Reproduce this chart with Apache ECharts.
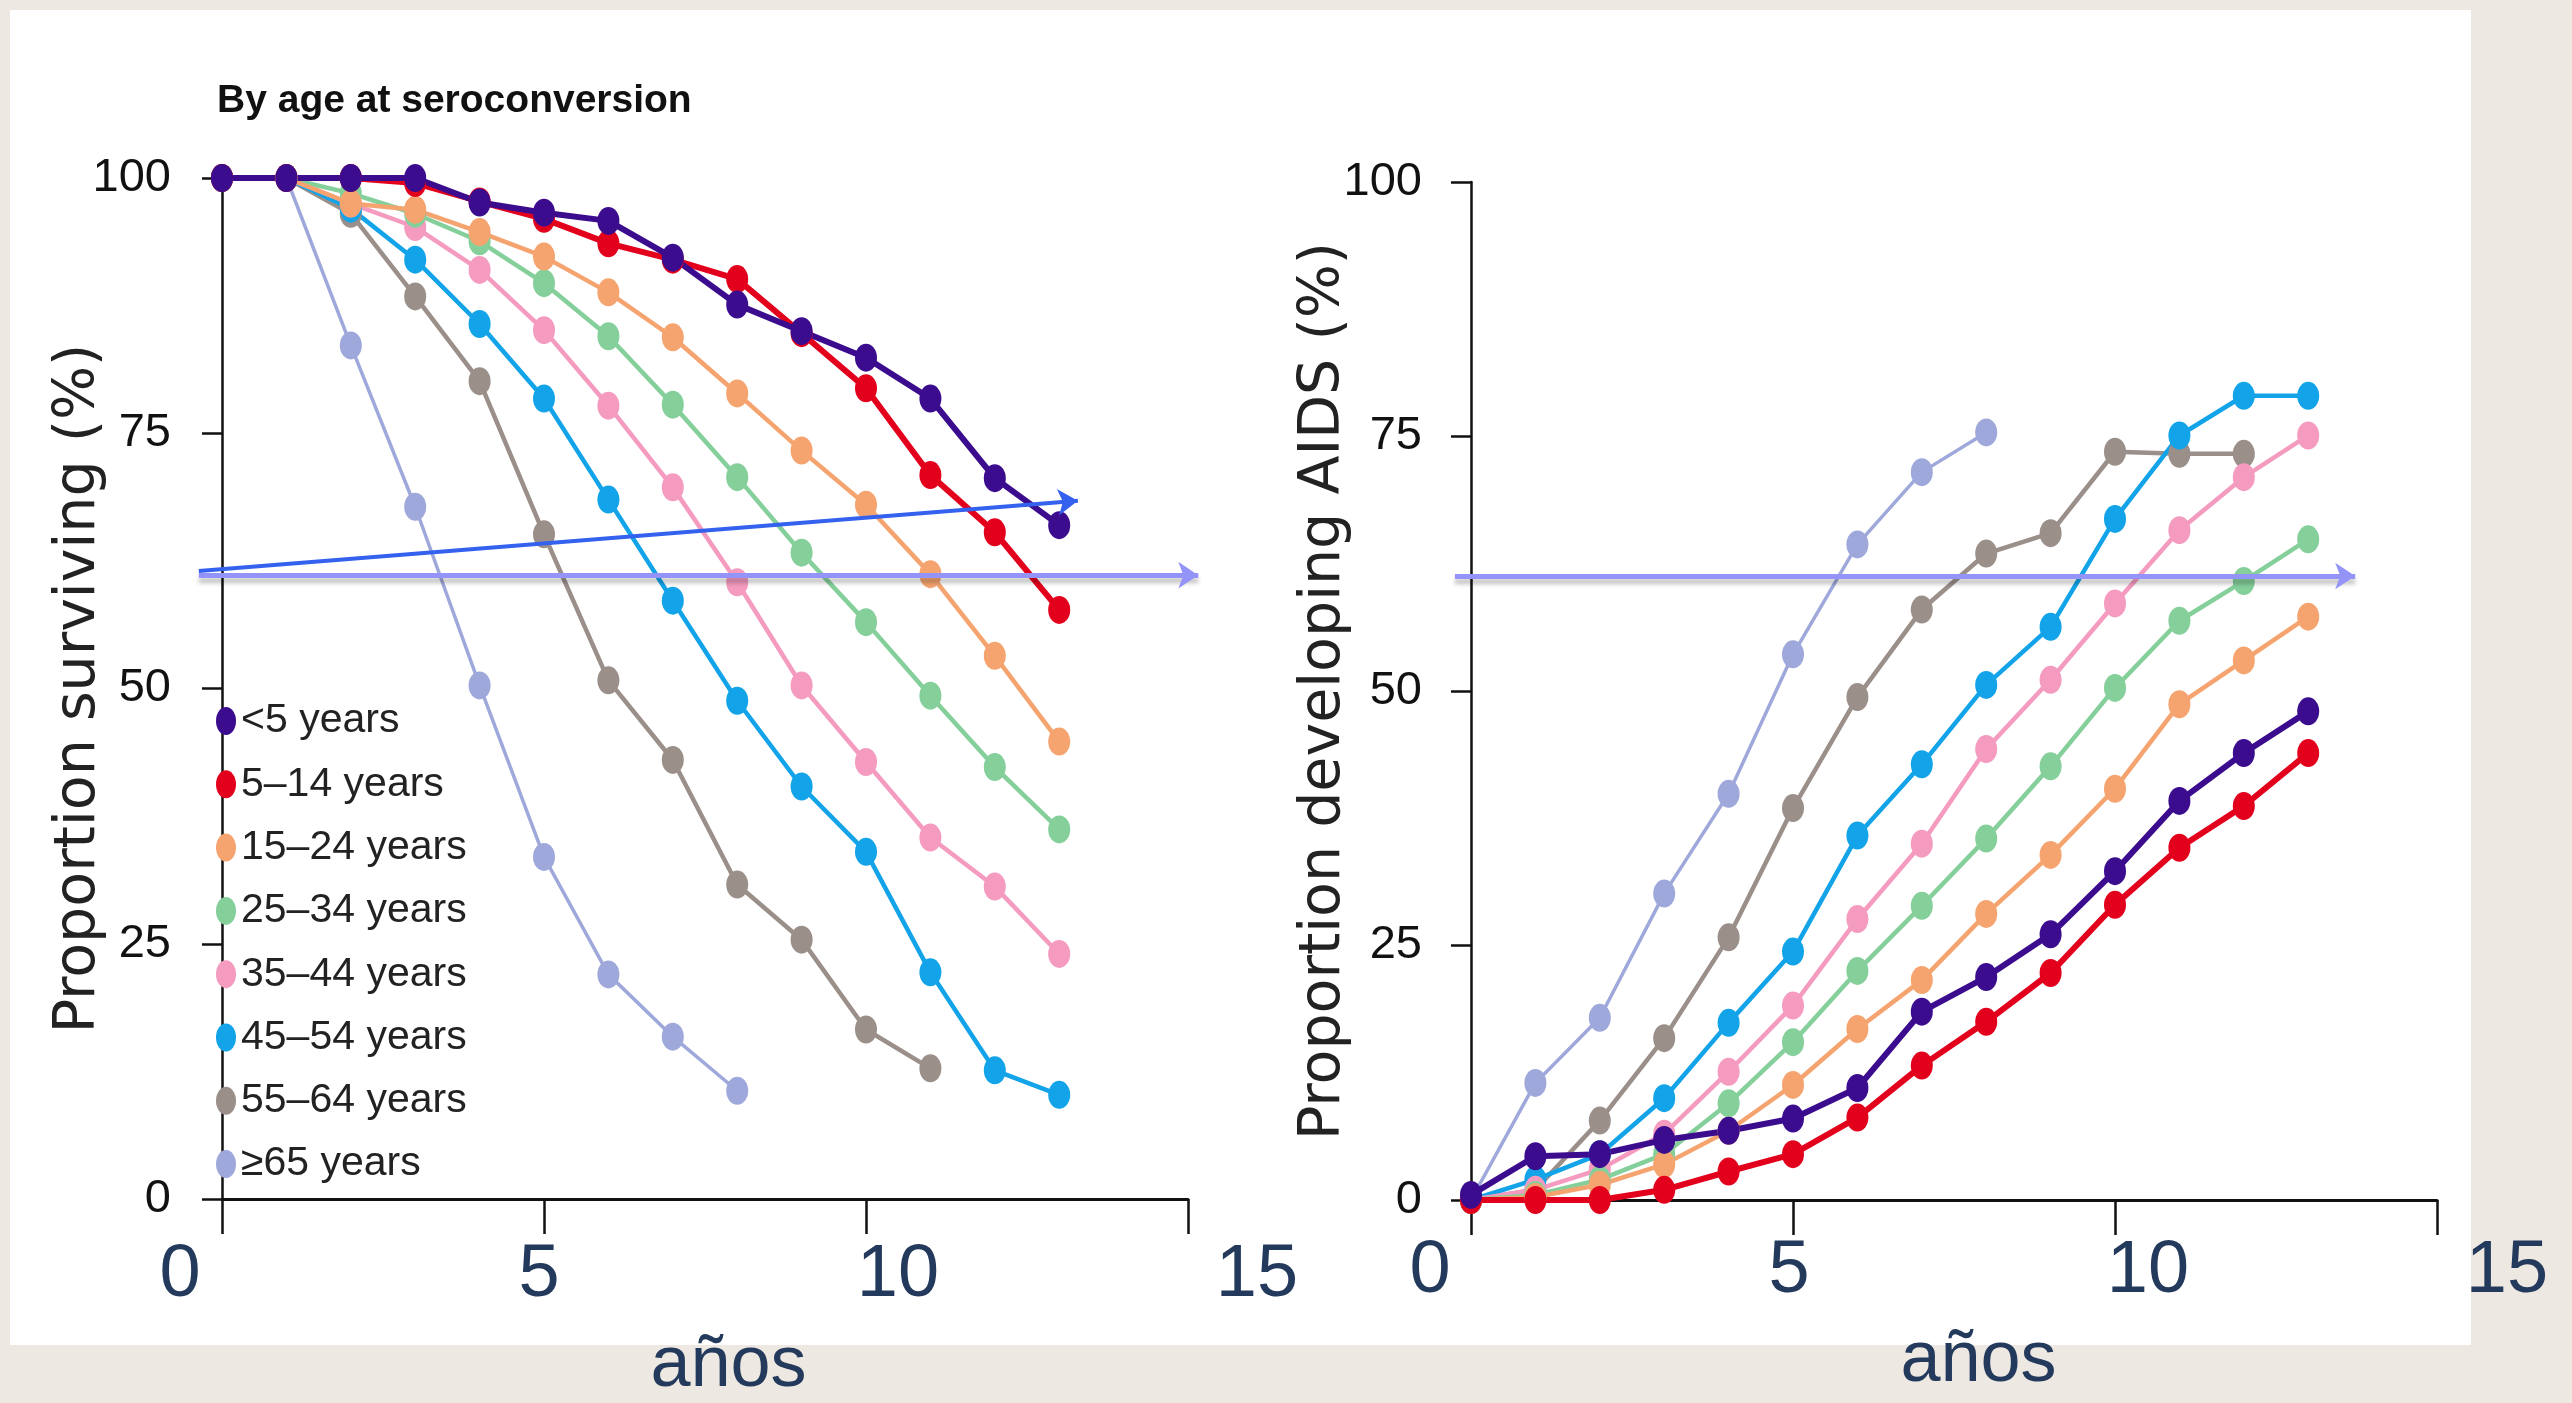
<!DOCTYPE html>
<html>
<head>
<meta charset="utf-8">
<script src="https://cdn.jsdelivr.net/npm/echarts@6/dist/echarts.min.js"></script>
<style>
    html, body { margin: 0; padding: 0; background: #eee8e2; }
    #panel { position: absolute; left: 10px; top: 10px; width: 2461px; height: 1335px; background: #fff; }
    #chart { position: absolute; left: 0; top: 0; width: 2572px; height: 1403px; }
</style>
</head>
<body>
<div id="panel"></div>
<div id="chart"></div>
<script>
// 年份（感染后年数）
var years = [0, 1, 2, 3, 4, 5, 6, 7, 8, 9, 10, 11, 12, 13];
var groups = ['<5 years', '5–14 years', '15–24 years', '25–34 years', '35–44 years', '45–54 years', '55–64 years', '≥65 years'];
var colors = ['#3c0c8e', '#e2001c', '#f5a46f', '#85cf9b', '#f49bbf', '#12a3e8', '#9b8f8a', '#9fa8da'];
var xTicks = ['0', '5', '10', '15'];
var yTicks = ['0', '25', '50', '75', '100'];

// 左图：存活比例 (%)
var survLt5 = [100, 100, 100, 100, 97.6, 96.6, 95.8, 92.2, 87.6, 85.0, 82.4, 78.4, 70.6, 66.0];
var surv5to14 = [100, 100, 100, 99.5, 97.7, 96.0, 93.6, 92.0, 90.1, 84.8, 79.4, 70.9, 65.3, 57.7];
var surv15to24 = [100, 100, 97.5, 96.9, 94.7, 92.3, 88.8, 84.4, 78.9, 73.3, 68.0, 61.2, 53.2, 44.8];
var surv25to34 = [100, 100, 98.5, 96.5, 93.8, 89.7, 84.5, 77.8, 70.7, 63.3, 56.5, 49.3, 42.3, 36.2];
var surv35to44 = [100, 100, 97.5, 95.2, 91.0, 85.1, 77.7, 69.7, 60.4, 50.3, 42.8, 35.4, 30.6, 24.0];
var surv45to54 = [100, 100, 97.0, 92.0, 85.7, 78.4, 68.5, 58.6, 48.8, 40.4, 34.0, 22.2, 12.6, 10.2];
var surv55to64 = [100, 100, 96.5, 88.4, 80.1, 65.1, 50.8, 43.0, 30.8, 25.4, 16.6, 12.8];
var survGe65 = [100, 100, 83.6, 67.8, 50.3, 33.5, 22.0, 15.9, 10.6];

// 右图：发展为AIDS的比例 (%)
var aidsLt5 = [0.5, 4.3, 4.5, 5.9, 6.8, 8.0, 11.0, 18.5, 21.9, 26.1, 32.3, 39.2, 43.9, 48.0];
var aids5to14 = [0, 0, 0, 1.0, 2.8, 4.5, 8.1, 13.2, 17.5, 22.3, 29.0, 34.6, 38.7, 43.9];
var aids15to24 = [0, 0.3, 1.5, 3.5, 6.8, 11.3, 16.8, 21.6, 28.1, 33.9, 40.4, 48.7, 53.0, 57.3];
var aids25to34 = [0, 0.5, 2.0, 4.5, 9.5, 15.5, 22.5, 28.9, 35.5, 42.6, 50.3, 56.9, 60.8, 64.9];
var aids35to44 = [0, 1.0, 3.0, 6.5, 12.6, 19.1, 27.6, 35.0, 44.3, 51.1, 58.6, 65.8, 71.0, 75.1];
var aids45to54 = [0, 2.0, 4.5, 10.0, 17.4, 24.4, 35.8, 42.8, 50.6, 56.3, 66.9, 75.1, 79.0, 79.0];
var aids55to64 = [0, 1.0, 7.8, 15.9, 25.8, 38.5, 49.4, 58.0, 63.5, 65.5, 73.5, 73.3, 73.3];
var aidsGe65 = [0, 11.5, 17.9, 30.1, 39.9, 53.6, 64.4, 71.5, 75.4];

// 幻灯片上加的箭头（数据坐标）
var arrowDiag = [[-0.36, 61.5], [13.29, 68.4]];
var arrowLeft = [[-0.36, 61.1], [15.16, 61.1]];
var arrowRight = [[-0.25, 61.3], [13.73, 61.3]];

var survival = [survLt5, surv5to14, surv15to24, surv25to34, surv35to44, surv45to54, surv55to64, survGe65];
var aids = [aidsLt5, aids5to14, aids15to24, aids25to34, aids35to44, aids45to54, aids55to64, aidsGe65];
var lineWidths = [6, 6, 4.5, 4.5, 4.5, 4.5, 4.5, 3.5];

var sans = '"Liberation Sans", Arial, sans-serif';
var navy = '#243a5c';
// 椭圆形图例标记
var ellipse = 'path://M10,0 A10,14 0 1,1 10,28 A10,14 0 1,1 10,0 Z';

function pairs(vals) {
    return vals.map(function (v, i) { return [years[i], v]; });
}

function makeLine(i, vals, idx) {
    return {
        type: 'line',
        name: groups[i],
        xAxisIndex: idx,
        yAxisIndex: idx,
        data: pairs(vals),
        symbol: 'circle',
        symbolSize: [22, 28],
        color: colors[i],
        lineStyle: { width: lineWidths[i], color: colors[i] },
        itemStyle: { color: colors[i] },
        animation: false
    };
}

function arrow(coords, idx, color, width, shadow) {
    return {
        type: 'lines',
        coordinateSystem: 'cartesian2d',
        xAxisIndex: idx,
        yAxisIndex: idx,
        clip: false,
        silent: true,
        z: 10,
        symbol: ['none', 'arrow'],
        symbolSize: [16, 20],
        lineStyle: {
            color: color, width: width, opacity: 1, curveness: 0,
            shadowColor: shadow ? 'rgba(0,0,0,0.25)' : 'transparent',
            shadowBlur: shadow ? 4 : 0, shadowOffsetY: shadow ? 5 : 0
        },
        data: [{ coords: coords }],
        animation: false
    };
}

var series = [];
// 后画的在上层，所以倒序
for (var i = groups.length - 1; i >= 0; i--) {
    series.push(makeLine(i, survival[i], 0));
    series.push(makeLine(i, aids[i], 1));
}
series.push(arrow(arrowLeft, 0, '#9494f8', 5, true));
series.push(arrow(arrowDiag, 0, '#3561ef', 4, false));
series.push(arrow(arrowRight, 1, '#9494f8', 5, true));

function dataX(gridIndex, offset) {
    return {
        gridIndex: gridIndex, type: 'value', min: 0, max: 15, interval: 5, offset: offset,
        axisLine: { show: true, lineStyle: { color: '#111', width: 3 } },
        axisTick: { show: true, length: 35, lineStyle: { color: '#111', width: 2.5 } },
        axisLabel: { show: false },
        splitLine: { show: false }
    };
}

function labelX(gridIndex, margin, gap) {
    return {
        gridIndex: gridIndex, type: 'value', min: 0, max: 15, interval: 5,
        axisLine: { show: false }, axisTick: { show: false }, splitLine: { show: false },
        axisLabel: {
            margin: margin, fontSize: 74, color: navy, fontFamily: sans,
            formatter: function (v) { return xTicks[v / 5]; }
        },
        name: 'años', nameLocation: 'middle', nameGap: gap, nameMoveOverlap: false,
        nameTextStyle: { fontSize: 72, color: navy, fontFamily: sans, padding: [0, 0, 0, 20] }
    };
}

function dataY(gridIndex, offset, title, gap) {
    return {
        gridIndex: gridIndex, type: 'value', min: 0, max: 100, interval: 25, offset: offset,
        axisLine: { show: true, lineStyle: { color: '#111', width: 2.5 } },
        axisTick: { show: true, length: 20, lineStyle: { color: '#111', width: 2.5 } },
        splitLine: { show: false },
        axisLabel: {
            margin: 27, fontSize: 47, color: '#111', fontFamily: sans,
            formatter: function (v) { return yTicks[v / 25]; }
        },
        name: title, nameLocation: 'middle', nameRotate: 90, nameGap: gap, nameMoveOverlap: false,
        nameTextStyle: { fontSize: 57, color: '#222', fontFamily: '"DejaVu Sans", sans-serif' }
    };
}

var myChart = echarts.init(document.getElementById('chart'), null, { renderer: 'canvas' });

var option = {
    backgroundColor: 'transparent',
    animation: false,
    title: {
        text: 'By age at seroconversion',
        left: 212, top: 77,
        textStyle: { fontFamily: sans, fontWeight: 'bold', fontSize: 39, color: '#111' }
    },
    legend: {
        data: groups,
        orient: 'vertical',
        left: 216, top: 697,
        icon: ellipse,
        itemWidth: 20, itemHeight: 28, itemGap: 15.3,
        padding: 0,
        textStyle: { fontFamily: sans, fontSize: 41, color: '#222', lineHeight: 48 },
        selectedMode: false
    },
    grid: [
        { left: 222, top: 178, width: 966, height: 1021 },
        { left: 1471, top: 182, width: 966, height: 1018 },
        { left: 180, top: 1100, width: 1077, height: 140 },
        { left: 1430, top: 1084, width: 1077, height: 140 }
    ],
    xAxis: [dataX(0, 42), dataX(1, 41), labelX(2, 16, 107), labelX(3, 11, 101)],
    yAxis: [
        dataY(0, 24, 'Proportion surviving (%)', 90),
        dataY(1, 22, 'Proportion developing AIDS (%)', 96),
        { gridIndex: 2, show: false },
        { gridIndex: 3, show: false }
    ],
    series: series
};

myChart.setOption(option);
</script>
</body>
</html>
